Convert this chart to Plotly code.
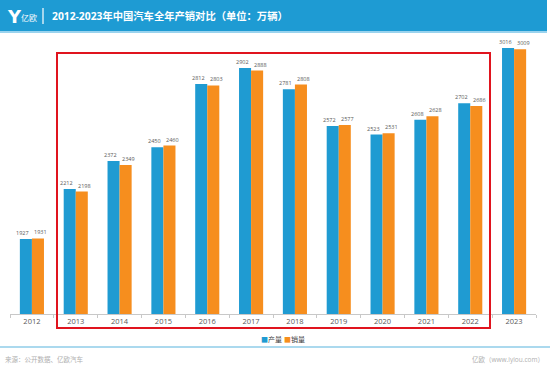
import plotly.graph_objects as go

years = ["2012", "2013", "2014", "2015", "2016", "2017", "2018", "2019", "2020", "2021", "2022", "2023"]
production = [1927, 2212, 2372, 2450, 2812, 2902, 2781, 2572, 2523, 2608, 2702, 3016]
sales = [1931, 2198, 2349, 2460, 2803, 2888, 2808, 2577, 2531, 2628, 2686, 3009]
series_names = ["产量", "销量"]
title_text = "2012-2023年中国汽车全年产销对比（单位：万辆）"
source_text = "来源：公开数据、亿欧汽车"
site_text = "亿欧（www.iyiou.com）"

W, H = 550, 378
ML, MR, MT, MB = 10, 14, 40, 64
PW, PH = W - ML - MR, H - MT - MB

def px(x):
    return (x - ML) / PW

def py(y):
    return (H - MB - y) / PH

BLUE = "#1F9BD2"
ORANGE = "#F68E1E"
FONT = "Open Sans, Noto Sans CJK SC, sans-serif"
LABEL_FONT = "Open Sans, sans-serif"

fig = go.Figure()
fig.add_trace(go.Bar(
    x=years, y=production, name=series_names[0], marker=dict(color=BLUE, line=dict(width=0)),
))
fig.add_trace(go.Bar(
    x=years, y=sales, name=series_names[1], marker=dict(color=ORANGE, line=dict(width=0)),
))

y0 = 1500
k = 0.1754
ymax = y0 + PH / k

shapes = [
    # header
    dict(type="rect", xref="paper", yref="paper", x0=px(0), x1=px(547), y0=py(31), y1=py(0),
         fillcolor="#1E9BD3", line=dict(width=0), layer="below"),
    dict(type="rect", xref="paper", yref="paper", x0=px(0), x1=px(547), y0=py(33), y1=py(31),
         fillcolor="#9AD3EE", line=dict(width=0), layer="below"),
    dict(type="line", xref="paper", yref="paper", x0=px(43), x1=px(43), y0=py(8), y1=py(24),
         line=dict(color="white", width=1.2)),
    # red box
    dict(type="rect", xref="paper", yref="paper", x0=px(57), x1=px(490), y0=py(328), y1=py(53),
         line=dict(color="#E0141E", width=2), fillcolor="rgba(0,0,0,0)"),
    # footer separator
    dict(type="line", xref="paper", yref="paper", x0=px(0), x1=px(550), y0=py(347), y1=py(347),
         line=dict(color="#8FCDE8", width=1.5)),
]

annotations = [
    dict(xref="paper", yref="paper", x=px(5), y=py(16), text="<b>Y</b>", showarrow=False,
         xanchor="left", yanchor="middle", font=dict(size=18, color="white", family="Arial Black, DejaVu Sans")),
    dict(xref="paper", yref="paper", x=px(19), y=py(17), text="亿欧", showarrow=False,
         xanchor="left", yanchor="middle", font=dict(size=8, color="white", family=FONT)),
    dict(xref="paper", yref="paper", x=px(50), y=py(16), text="<b>" + title_text + "</b>", showarrow=False,
         xanchor="left", yanchor="middle", font=dict(size=10.3, color="white", family=FONT)),
    dict(xref="paper", yref="paper", x=px(259), y=py(339),
         text="<span style='color:%s'>■</span>%s" % (BLUE, series_names[0]), showarrow=False,
         xanchor="left", yanchor="middle", font=dict(size=7, color="#404040", family=FONT)),
    dict(xref="paper", yref="paper", x=px(282), y=py(339),
         text="<span style='color:%s'>■</span>%s" % (ORANGE, series_names[1]), showarrow=False,
         xanchor="left", yanchor="middle", font=dict(size=7, color="#404040", family=FONT)),
    dict(xref="paper", yref="paper", x=px(3), y=py(359), text=source_text, showarrow=False,
         xanchor="left", yanchor="middle", font=dict(size=6.5, color="#B0B0B0", family=FONT)),
    dict(xref="paper", yref="paper", x=px(546), y=py(359), text=site_text, showarrow=False,
         xanchor="right", yanchor="middle", font=dict(size=6.5, color="#B0B0B0", family=FONT)),
]

# value labels, nudged outward from each bar (x given as category index)
for i, (p, s) in enumerate(zip(production, sales)):
    annotations.append(dict(xref="x", yref="y", x=i, y=p, text=str(p), showarrow=False,
                            xanchor="center", yanchor="bottom", xshift=-9, yshift=0,
                            font=dict(size=5.5, color="#595959", family=LABEL_FONT)))
    annotations.append(dict(xref="x", yref="y", x=i, y=s, text=str(s), showarrow=False,
                            xanchor="center", yanchor="bottom", xshift=9, yshift=0,
                            font=dict(size=5.5, color="#595959", family=LABEL_FONT)))

fig.update_layout(
    width=W, height=H,
    margin=dict(l=ML, r=MR, t=MT, b=MB, pad=0),
    paper_bgcolor="white", plot_bgcolor="white",
    barmode="group", bargap=0.45, bargroupgap=0,
    font=dict(family=FONT, color="#595959"),
    showlegend=False,
    xaxis=dict(type="category", categoryorder="array", categoryarray=years,
               range=[-0.5, len(years) - 0.5], showline=True, linecolor="#C8C8C8", linewidth=1,
               ticks="outside", tickson="boundaries", ticklen=3, tickcolor="#C8C8C8",
               tickfont=dict(size=7.5, color="#595959"), showgrid=False),
    yaxis=dict(range=[y0, ymax], visible=False, showgrid=False),
    shapes=shapes, annotations=annotations,
)

fig.write_html("out.html", config={"displayModeBar": False},
               post_script="document.body.style.margin='0px';document.body.style.overflow='hidden';")
